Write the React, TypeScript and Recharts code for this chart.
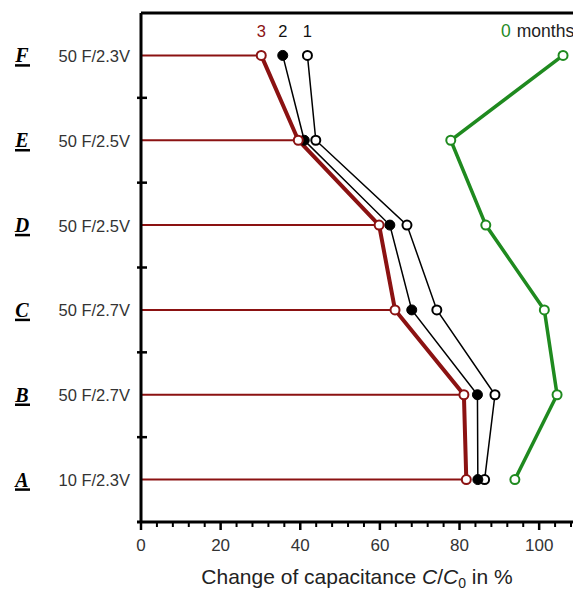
import React from 'react';
import { LineChart, Line, XAxis, YAxis, ReferenceLine } from 'recharts';

// Capacitor groups, bottom to top
const categories = ['A', 'B', 'C', 'D', 'E', 'F'];
const capacitorTypes = ['10 F/2.3V', '50 F/2.7V', '50 F/2.7V', '50 F/2.5V', '50 F/2.5V', '50 F/2.3V'];
const rowPositions = [0.5, 1.5, 2.5, 3.5, 4.5, 5.5];

// C/C0 in % after 0, 1, 2 and 3 months
const months0 = [93.9, 104.5, 101.3, 86.6, 77.8, 106.0];
const months1 = [86.3, 88.9, 74.3, 66.8, 43.9, 41.8];
const months2 = [84.6, 84.5, 68.0, 62.5, 41.0, 35.6];
const months3 = [81.7, 81.1, 63.8, 59.8, 39.5, 30.2];

const xTicks = [0, 4, 8, 12, 16, 20, 24, 28, 32, 36, 40, 44, 48, 52, 56, 60, 64, 68, 72, 76, 80, 84, 88, 92, 96, 100, 104, 108];
const yTicks = [0.5, 1, 1.5, 2, 2.5, 3, 3.5, 4, 4.5, 5, 5.5];

const data = categories.map((c, i) => ({
  cat: c,
  pos: rowPositions[i],
  m0: months0[i],
  m1: months1[i],
  m2: months2[i],
  m3: months3[i],
}));

const RED = '#8b1212';
const GREEN = '#1f8a1f';
const SANS = 'Liberation Sans, Arial, sans-serif';

const YTick = (props: any) => {
  const { x, y, payload } = props;
  const v = payload.value as number;
  if (Number.isInteger(v)) {
    return <line x1={x - 4} x2={x + 6} y1={y} y2={y} stroke="#000" strokeWidth={2.5} />;
  }
  const i = Math.round(v - 0.5);
  return (
    <g>
      <text
        x={22}
        y={y + 7}
        textAnchor="middle"
        fontFamily="Liberation Serif, Times New Roman, serif"
        fontWeight="bold"
        fontStyle="italic"
        fontSize={20}
        fill="#000"
      >
        {categories[i]}
      </text>
      <line x1={15} x2={30} y1={y + 10} y2={y + 10} stroke="#000" strokeWidth={2.5} />
      <text x={x - 11} y={y + 6.5} textAnchor="end" fontFamily={SANS} fontSize={16.5} fill="#333">
        {capacitorTypes[i]}
      </text>
    </g>
  );
};

const XTick = (props: any) => {
  const { x, y, payload } = props;
  const v = payload.value as number;
  const major = v % 20 === 0 && v <= 100;
  return (
    <g>
      {v === 0 && <line x1={x - 4} x2={x} y1={y} y2={y} stroke="#000" strokeWidth={3} />}
      <line x1={x} x2={x} y1={y} y2={y + (major ? 8 : 5)} stroke="#000" strokeWidth={major ? 2.5 : 2} />
      {major && (
        <text x={x} y={y + 29} textAnchor="middle" fontFamily={SANS} fontSize={17} fill="#333">
          {v}
        </text>
      )}
    </g>
  );
};

const AxisTitle = (props: any) => {
  const { viewBox } = props;
  const cx = viewBox.x + viewBox.width / 2;
  return (
    <text x={cx} y={584} textAnchor="middle" fontFamily={SANS} fontSize={21} fill="#222">
      {'Change of capacitance '}
      <tspan fontStyle="italic">C</tspan>/<tspan fontStyle="italic">C</tspan>
      <tspan fontSize={14} dy={4}>0</tspan>
      <tspan dy={-4}>{' in %'}</tspan>
    </text>
  );
};

// Series name written above the top (F) point of each curve
const seriesLabel = (text: string, color: string) => (props: any) => {
  const { x, y, index } = props;
  if (index !== categories.length - 1) return null;
  return (
    <text x={x} y={y - 18} textAnchor="middle" fontFamily={SANS} fontSize={16.5} fill={color} stroke="none">
      {text}
    </text>
  );
};

const monthsLabel = (props: any) => {
  const { x, y, index } = props;
  if (index !== categories.length - 1) return null;
  return (
    <text x={x - 62} y={y - 18} fontFamily={SANS} fontSize={17.5} stroke="none">
      <tspan fill={GREEN}>0</tspan>
      <tspan fill="#222" dx={6}>months</tspan>
    </text>
  );
};

export default function App() {
  return (
    <>
      <style>{'body{margin:0}'}</style>
      <LineChart
        width={573}
        height={590}
        data={data}
        layout="vertical"
        margin={{ top: 13, right: 0, bottom: 0, left: 0 }}
      >
        <XAxis
          type="number"
          domain={[0, 108.5]}
          ticks={xTicks}
          interval={0}
          tickSize={0}
          tickMargin={0}
          tickLine={false}
          tick={<XTick />}
          axisLine={{ stroke: '#000', strokeWidth: 3 }}
          height={68}
          label={{ content: <AxisTitle /> }}
        />
        <YAxis
          type="number"
          dataKey="pos"
          domain={[0, 6]}
          reversed
          ticks={yTicks}
          interval={0}
          tickSize={0}
          tickMargin={0}
          tickLine={false}
          tick={<YTick />}
          axisLine={{ stroke: '#000', strokeWidth: 3 }}
          width={141}
        />
        <ReferenceLine y={6} stroke="#000" strokeWidth={3} />
        {data.map((d) => (
          <ReferenceLine
            key={d.cat}
            segment={[
              { x: 0, y: d.pos },
              { x: d.m3, y: d.pos },
            ]}
            stroke={RED}
            strokeWidth={2}
          />
        ))}
        <Line
          dataKey="m0"
          type="linear"
          stroke={GREEN}
          strokeWidth={3.5}
          dot={{ r: 4.5, fill: '#fff', stroke: GREEN, strokeWidth: 2 }}
          label={monthsLabel}
          isAnimationActive={false}
        />
        <Line
          dataKey="m1"
          type="linear"
          stroke="#000"
          strokeWidth={1.5}
          dot={{ r: 4.5, fill: '#fff', stroke: '#000', strokeWidth: 2 }}
          label={seriesLabel('1', '#111')}
          isAnimationActive={false}
        />
        <Line
          dataKey="m2"
          type="linear"
          stroke="#000"
          strokeWidth={1.5}
          dot={{ r: 5, fill: '#000', stroke: '#000', strokeWidth: 1 }}
          label={seriesLabel('2', '#111')}
          isAnimationActive={false}
        />
        <Line
          dataKey="m3"
          type="linear"
          stroke={RED}
          strokeWidth={4}
          dot={{ r: 4.5, fill: '#fff', stroke: RED, strokeWidth: 2 }}
          label={seriesLabel('3', RED)}
          isAnimationActive={false}
        />
      </LineChart>
    </>
  );
}
